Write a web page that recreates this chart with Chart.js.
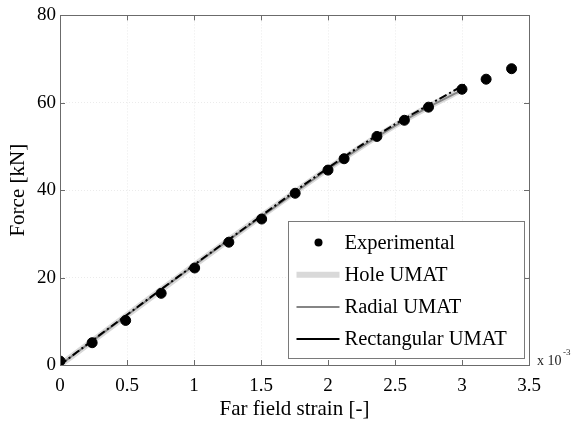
<!DOCTYPE html>
<html>
<head>
<meta charset="utf-8">
<script src="https://cdn.jsdelivr.net/npm/chart.js@4/dist/chart.umd.min.js"></script>
<style>
  html, body { margin: 0; padding: 0; background: #fff; }
  #wrap { width: 571px; height: 430px; }
</style>
</head>
<body>
<div id="wrap"><canvas id="forceChart" width="571" height="430"></canvas></div>
<script>
// experimental points (strain in 1e-3, force in kN)
const expStrain = [0, 0.24, 0.49, 0.755, 1.005, 1.26, 1.505, 1.755, 2.0, 2.12, 2.365, 2.57, 2.75, 3.0, 3.18, 3.37];
const expForce = [0.9, 5.1, 10.2, 16.4, 22.2, 28.1, 33.4, 39.3, 44.6, 47.2, 52.3, 56.0, 59.0, 63.1, 65.4, 67.8];

// model curves
const modelStrain = [0, 0.25, 0.5, 0.75, 1.0, 1.25, 1.5, 1.75, 2.0, 2.25, 2.5, 2.75, 3.0];
const holeForce = [0, 5.7, 11.4, 17.1, 22.8, 28.4, 34.0, 39.5, 44.9, 50.0, 54.8, 59.1, 63.0];
const radialForce = [0, 5.7, 11.4, 17.1, 22.8, 28.4, 33.9, 39.4, 44.8, 49.9, 54.7, 59.0, 62.9];
const rectStrain = [0, 0.25, 0.5, 0.75, 1.0, 1.25, 1.5, 1.75, 2.0, 2.25, 2.5, 2.75, 3.0, 3.03];
const rectForce = [0, 5.8, 11.5, 17.2, 22.9, 28.5, 34.1, 39.7, 45.1, 50.3, 55.1, 59.5, 63.8, 64.3];

const xTicks = [0, 0.5, 1, 1.5, 2, 2.5, 3, 3.5];
const yTicks = [0, 20, 40, 60, 80];

const FONT = "'Liberation Serif', 'DejaVu Serif', serif";

function pts(xs, ys) {
    return xs.map((x, i) => ({ x: x, y: ys[i] }));
}

// inner tick marks, frame, legend box and the x 10^-3 note
const framePlugin = {
    id: 'frame',
    afterDraw(chart) {
        const ctx = chart.ctx;
        const a = chart.chartArea;
        const xs = chart.scales.x, ys = chart.scales.y;
        ctx.save();
        ctx.strokeStyle = '#6b6b6b';
        ctx.lineWidth = 1;
        ctx.beginPath();
        xTicks.forEach(v => {
            const p = Math.round(xs.getPixelForValue(v)) + 0.5;
            ctx.moveTo(p, a.bottom); ctx.lineTo(p, a.bottom - 5);
            ctx.moveTo(p, a.top); ctx.lineTo(p, a.top + 5);
        });
        yTicks.forEach(v => {
            const p = Math.round(ys.getPixelForValue(v)) + 0.5;
            ctx.moveTo(a.left, p); ctx.lineTo(a.left + 5, p);
            ctx.moveTo(a.right, p); ctx.lineTo(a.right - 5, p);
        });
        ctx.stroke();
        ctx.strokeRect(Math.round(a.left) + 0.5, Math.round(a.top) + 0.5,
            Math.round(a.right - a.left), Math.round(a.bottom - a.top));

        // legend
        const bx = Math.round(a.right) - 240.5, by = Math.round(a.bottom) - 143.5;
        const bw = 236, bh = 137;
        ctx.fillStyle = '#fff';
        ctx.fillRect(bx, by, bw, bh);
        ctx.strokeStyle = '#7a7a7a';
        ctx.strokeRect(bx, by, bw, bh);
        ctx.font = '20.5px ' + FONT;
        ctx.textBaseline = 'middle';
        chart.data.datasets.forEach((ds, i) => {
            const cy = by + 21 + i * 32.2;
            if (ds.showLine === false) {
                ctx.fillStyle = '#000';
                ctx.beginPath();
                ctx.arc(bx + 30, cy, 4, 0, Math.PI * 2);
                ctx.fill();
            } else {
                ctx.strokeStyle = ds.borderColor;
                ctx.lineWidth = ds.borderWidth;
                ctx.setLineDash([]);
                ctx.beginPath();
                ctx.moveTo(bx + 8, cy); ctx.lineTo(bx + 51, cy);
                ctx.stroke();
            }
            ctx.fillStyle = '#000';
            ctx.fillText(ds.label, bx + 56, cy + 1);
        });

        // exponent note
        ctx.fillStyle = '#222';
        ctx.font = '14px ' + FONT;
        ctx.fillText('x 10', a.right + 8, a.bottom - 4);
        ctx.font = '9px ' + FONT;
        ctx.fillText('-3', a.right + 34, a.bottom - 12);
        ctx.restore();
    }
};

const ctx = document.getElementById('forceChart').getContext('2d');
const chart = new Chart(ctx, {
    type: 'scatter',
    data: {
        datasets: [
            {
                label: 'Experimental',
                data: pts(expStrain, expForce),
                showLine: false,
                backgroundColor: '#000',
                borderColor: '#000',
                pointRadius: 5,
                order: 0
            },
            {
                label: 'Hole UMAT',
                data: pts(modelStrain, holeForce),
                showLine: true,
                borderColor: '#d9d9d9',
                borderWidth: 6,
                pointRadius: 0,
                tension: 0.3,
                order: 3
            },
            {
                label: 'Radial UMAT',
                data: pts(modelStrain, radialForce),
                showLine: true,
                borderColor: '#858585',
                borderWidth: 2,
                pointRadius: 0,
                tension: 0.3,
                order: 2
            },
            {
                label: 'Rectangular UMAT',
                data: pts(rectStrain, rectForce),
                showLine: true,
                borderColor: '#000',
                borderWidth: 2,
                borderDash: [8, 3, 2, 3],
                pointRadius: 0,
                tension: 0.3,
                order: 1
            }
        ]
    },
    options: {
        responsive: false,
        animation: false,
        layout: { padding: { top: 10, right: 42, left: 0, bottom: 0 } },
        plugins: {
            legend: { display: false },
            tooltip: { enabled: false }
        },
        scales: {
            x: {
                type: 'linear',
                min: 0,
                max: 3.5,
                afterBuildTicks: s => { s.ticks = xTicks.map(v => ({ value: v })); },
                afterFit: s => { s.height = 65; },
                grid: { color: '#ebebeb', drawTicks: false },
                border: { display: false, dash: [1, 2] },
                ticks: {
                    color: '#000',
                    font: { family: FONT, size: 19 },
                    padding: 10,
                    maxRotation: 0,
                    callback: v => String(v)
                },
                title: {
                    display: true,
                    text: 'Far field strain [-]',
                    color: '#000',
                    font: { family: FONT, size: 21 },
                    padding: { top: 0, bottom: 8 }
                }
            },
            y: {
                type: 'linear',
                min: 0,
                max: 80,
                afterBuildTicks: s => { s.ticks = yTicks.map(v => ({ value: v })); },
                afterFit: s => { s.width = 60; },
                grid: { color: '#ebebeb', drawTicks: false },
                border: { display: false, dash: [1, 2] },
                ticks: { color: '#000', font: { family: FONT, size: 19 }, padding: 4 },
                title: {
                    display: true,
                    text: 'Force [kN]',
                    color: '#000',
                    font: { family: FONT, size: 21 },
                    padding: { top: 6, bottom: 6 }
                }
            }
        }
    },
    plugins: [framePlugin]
});
</script>
</body>
</html>
